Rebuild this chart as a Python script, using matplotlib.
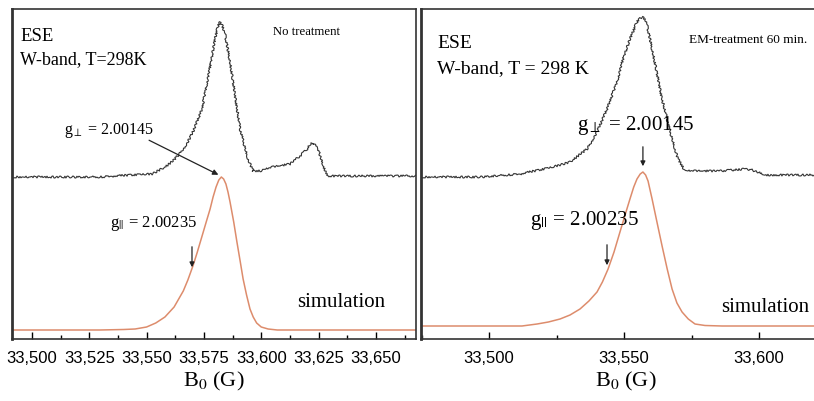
import matplotlib
matplotlib.use("Agg")
import matplotlib.pyplot as plt
from matplotlib.ticker import MultipleLocator

# ---- data (B0 in G, intensity in arbitrary units) ----
# left panel: no treatment
exp1_b = [33491.3, 33512.2, 33529.7, 33542.8, 33552.4, 33558.0, 33561.5, 33564.6,
          33567.5, 33570.2, 33574.2, 33576.4, 33578.5, 33580.0, 33581.2, 33582.0,
          33583.0, 33584.2, 33586.4, 33588.6, 33590.8, 33593.8, 33596.4, 33599.5,
          33605.1, 33612.6, 33616.9, 33620.0, 33621.4, 33622.6, 33624.8, 33627.0,
          33629.1, 33643.1, 33667.5]
exp1_i = [162, 162, 162, 164, 165, 172, 178, 186,
          195, 207, 230, 257, 283, 302, 313, 317,
          314, 305, 277, 243, 210, 183, 168, 168,
          172, 175, 183, 190, 195, 196, 190, 173,
          163, 163, 163]

sim1_b = [33491.3, 33529.7, 33540.0, 33545.0, 33550.0, 33554.0, 33558.0, 33562.0,
          33564.0, 33566.0, 33568.0, 33570.2, 33572.0, 33574.2, 33576.0, 33577.7,
          33579.0, 33580.3, 33581.5, 33582.6, 33583.6, 33584.6, 33585.5, 33586.4,
          33588.0, 33589.4, 33590.8, 33592.1, 33593.6, 33595.1, 33596.5, 33598.0,
          33600.0, 33603.0, 33607.0, 33667.5]
sim1_i = [9, 9, 9.5, 10, 12, 16, 22, 32,
          40, 48, 59, 73, 86, 103, 117, 130,
          142, 152, 159, 162, 160, 155, 147, 137,
          117, 97, 78, 60, 44, 30, 22, 16,
          12, 10, 9, 9]

# right panel: EM-treatment 60 min.
exp2_b = [33474.8, 33496.7, 33511.5, 33523.7, 33530.0, 33536.3, 33540.0, 33543.7,
          33547.4, 33549.6, 33552.2, 33554.8, 33556.0, 33557.0, 33558.2, 33560.4,
          33564.1, 33567.8, 33570.0, 33572.6, 33585.6, 33594.8, 33597.4, 33602.2,
          33626.3]
exp2_i = [162, 162, 165, 172, 177, 190, 207, 230,
          257, 280, 300, 317, 321, 322, 318, 290,
          240, 200, 180, 168, 168, 170, 169, 164,
          164]

sim2_b = [33474.8, 33512.2, 33517.8, 33522.0, 33526.3, 33530.0, 33533.7, 33537.0,
          33540.0, 33542.0, 33544.1, 33546.3, 33548.5, 33550.5, 33552.2, 33553.6,
          33554.8, 33556.0, 33557.0, 33558.0, 33558.9, 33560.4, 33562.2, 33564.1,
          33566.0, 33567.8, 33569.6, 33571.5, 33573.8, 33576.3, 33580.0, 33586.3,
          33626.3]
sim2_i = [13, 13, 15, 17, 20, 24, 30, 38,
          47, 57, 70, 87, 107, 125, 140, 152,
          160, 165, 167, 164, 158, 140, 117, 93,
          70, 50, 36, 27, 20, 15, 13.5, 13,
          13]

ticks1 = [33500, 33525, 33550, 33575, 33600, 33625, 33650]
ticks2 = [33500, 33550, 33600]

plt.rcParams["font.family"] = ["Liberation Serif", "DejaVu Serif"]
plt.rcParams["mathtext.fontset"] = "stix"

EXP_C = "#333333"
SIM_C = "#dd8c6c"
W, H = 814, 402

fig = plt.figure(figsize=(W / 100, H / 100), dpi=100)
ax1 = fig.add_axes([12 / W, 62 / H, 404 / W, 330 / H])
ax2 = fig.add_axes([421 / W, 62 / H, 409 / W, 330 / H])


def style_axis(ax, xlim, ticks, minor_step):
    ax.set_xlim(*xlim)
    ax.set_ylim(0, 330)
    ax.set_yticks([])
    ax.set_xticks(ticks)
    ax.set_xticklabels([f"{t:,}" for t in ticks], family="Liberation Sans", fontsize=12)
    ax.xaxis.set_minor_locator(MultipleLocator(minor_step))
    ax.tick_params(axis="x", which="major", direction="in", length=5, width=1, pad=8)
    ax.tick_params(axis="x", which="minor", direction="in", length=3, width=1)
    for s in ax.spines.values():
        s.set_color("#333333")
        s.set_linewidth(1.2)
    ax.spines["left"].set_linewidth(2)
    ax.set_xlabel("B$_0$ (G)", fontsize=16, labelpad=3)


style_axis(ax1, (33491.3, 33667.5), ticks1, 12.5)
style_axis(ax2, (33474.8, 33626.3), ticks2, 25)

for ax, eb, ei, sb, si in [(ax1, exp1_b, exp1_i, sim1_b, sim1_i),
                           (ax2, exp2_b, exp2_i, sim2_b, sim2_i)]:
    ln, = ax.plot(eb, ei, color=EXP_C, lw=0.8)
    ln.set_sketch_params(scale=1.0, length=2.5, randomness=3)   # noisy look of the spectrum
    ax.plot(sb, si, color=SIM_C, lw=1.1)

# ---- left panel texts ----
ax1.text(0.02, 0.905, "ESE", transform=ax1.transAxes, fontsize=13.5)
ax1.text(0.02, 0.835, "W-band, T=298K", transform=ax1.transAxes, fontsize=13)
ax1.text(0.645, 0.925, "No treatment", transform=ax1.transAxes, fontsize=9.2)
ax1.text(33514, 206, "g$_{\\perp}$ = 2.00145", fontsize=11.5)
ax1.annotate("", xy=(33582.4, 163), xytext=(33550, 200),
             arrowprops=dict(arrowstyle="-|>", color="#222222", lw=0.9, mutation_scale=8))
ax1.text(33534, 113, "g$_{||}$ = 2.00235", fontsize=12)
ax1.annotate("", xy=(33569.8, 69), xytext=(33569.8, 95),
             arrowprops=dict(arrowstyle="-|>", color="#222222", lw=0.9, mutation_scale=7))
ax1.text(33615.5, 33, "simulation", fontsize=15)

# ---- right panel texts ----
ax2.text(0.04, 0.885, "ESE", transform=ax2.transAxes, fontsize=14)
ax2.text(0.04, 0.81, "W-band, T = 298 K", transform=ax2.transAxes, fontsize=14)
ax2.text(0.655, 0.9, "EM-treatment 60 min.", transform=ax2.transAxes, fontsize=9.5)
ax2.text(33532.5, 210, "g$_{\\perp}$ = 2.00145", fontsize=15)
ax2.annotate("", xy=(33557.0, 170), xytext=(33557.0, 195),
             arrowprops=dict(arrowstyle="-|>", color="#222222", lw=0.9, mutation_scale=7))
ax2.text(33515, 115, "g$_{||}$ = 2.00235", fontsize=15)
ax2.annotate("", xy=(33543.7, 71), xytext=(33543.7, 97),
             arrowprops=dict(arrowstyle="-|>", color="#222222", lw=0.9, mutation_scale=7))
ax2.text(33586, 28, "simulation", fontsize=15)

fig.savefig("out.png", dpi=100)
